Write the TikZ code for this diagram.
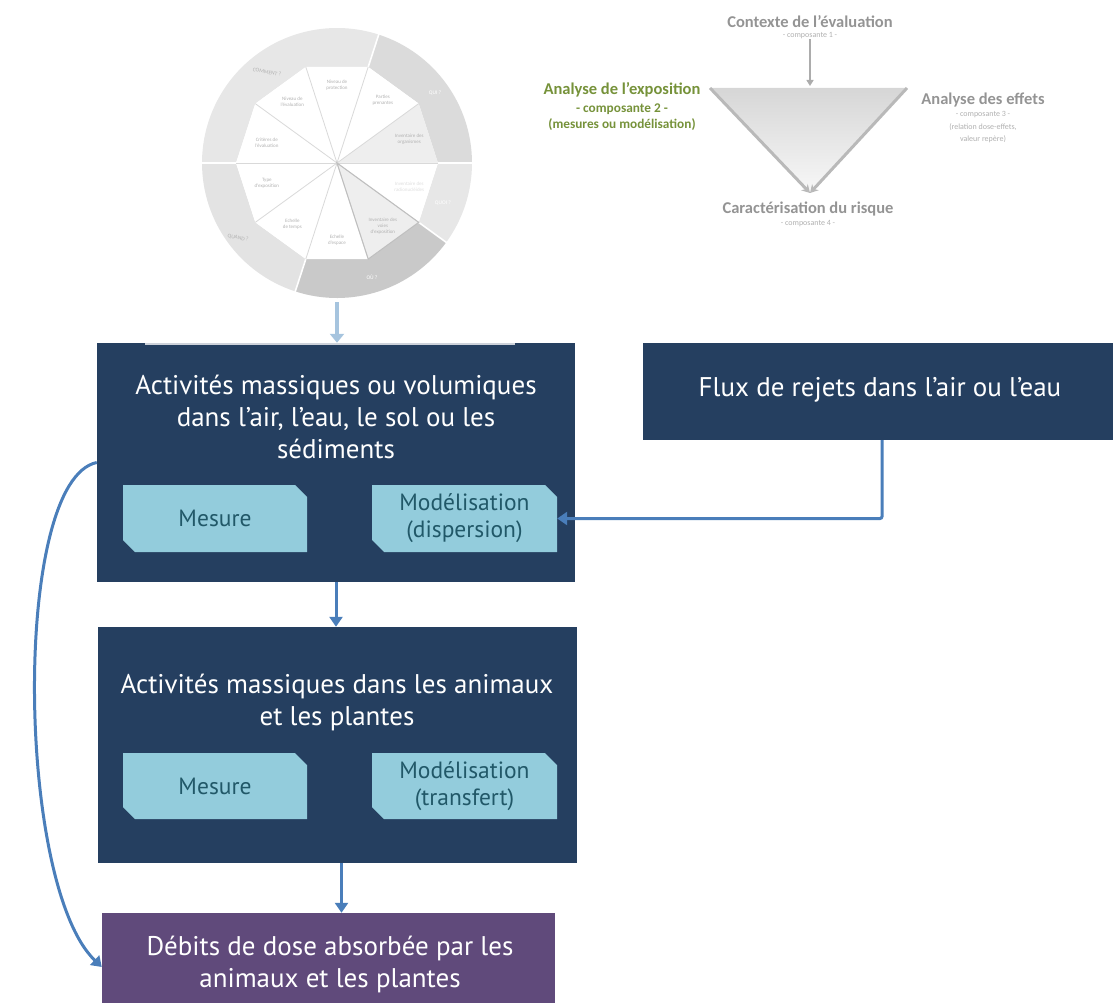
\documentclass[tikz,border=0pt]{standalone}
\usepackage{fontspec}
\setmainfont{PT Sans}
\newfontfamily\calib{Carlito}
\usetikzlibrary{arrows.meta,calc}

\definecolor{navy}{RGB}{37,63,96}
\definecolor{skyfill}{RGB}{147,204,220}
\definecolor{tealtext}{RGB}{33,88,104}
\definecolor{plum}{RGB}{96,74,123}
\definecolor{steel}{RGB}{74,126,186}
\definecolor{paleblue}{RGB}{166,196,222}
\definecolor{olive}{RGB}{118,146,58}
\definecolor{headgray}{RGB}{148,148,148}
\definecolor{smallgray}{RGB}{176,176,176}
\definecolor{ringlight}{RGB}{231,231,231}
\definecolor{ringmid}{RGB}{219,219,219}
\definecolor{ringdark}{RGB}{201,201,201}
\definecolor{ringquand}{RGB}{227,227,227}
\definecolor{slice}{RGB}{238,238,238}

% draws a light-blue box with two snipped corners and a named text node on it
\newcommand\snipbox[6]{%
  \fill[skyfill] (#2,#3) -- (#4-12,#3) -- (#4,#3+12) -- (#4,#5) -- (#2+12,#5) -- (#2,#5-12) -- cycle;
  \node[subtext, minimum width={(#4-#2)*1pt}, minimum height={(#5-#3)*1pt}] (#1) at ({(#2+#4)/2},{(#3+#5)/2}) {#6};}

\begin{document}
\begin{tikzpicture}[x=1pt,y=-1pt,
  panel/.style={fill=navy, draw=none, inner sep=0pt},
  title/.style={text=white, align=center, inner sep=0pt, font=\fontsize{27}{32}\selectfont},
  subtext/.style={text=tealtext, align=center, inner sep=0pt, font=\fontsize{23.5}{27}\selectfont},
  flow/.style={draw=steel, line width=3pt, -{Triangle[width=13pt,length=10pt]}},
  paleflow/.style={draw=paleblue, line width=4pt, -{Triangle[width=14pt,length=9pt]}},
  head/.style={inner sep=0pt, font=\calib\bfseries\fontsize{16.5}{18}\selectfont, text=headgray},
  greenhead/.style={inner sep=0pt, font=\calib\bfseries\fontsize{16.5}{18}\selectfont, text=olive},
  greensub/.style={inner sep=0pt, font=\calib\bfseries\fontsize{13.3}{14}\selectfont, text=olive},
  small/.style={inner sep=0pt, font=\calib\fontsize{8}{9}\selectfont, text=smallgray},
  wheeltext/.style={inner sep=0pt, align=center, font=\calib\fontsize{5}{6}\selectfont, text=gray!60},
  ringtext/.style={inner sep=0pt, font=\calib\fontsize{5.5}{6}\selectfont},
  side/.style={draw=gray!55, line width=3pt, -{Stealth[length=8pt,width=9pt]}},
]
\useasboundingbox (0,0) rectangle (1113,1003);

% ---------- evaluation wheel ----------
\begin{scope}[shift={(337,163)}, x=1pt, y=1pt]
  \def\R{135}\def\r{101}
  % outer ring sectors
  \fill[ringlight] (72:\R) arc[start angle=72, end angle=180, radius=\R] -- (180:\r) -- (144:\r) -- (108:\r) -- (72:\r) -- cycle;
  \fill[ringmid] (0:\R) arc[start angle=0, end angle=72, radius=\R] -- (72:\r) -- (36:\r) -- (0:\r) -- cycle;
  \fill[ringlight] (-36:\R) arc[start angle=-36, end angle=0, radius=\R] -- (0:\r) -- (-36:\r) -- cycle;
  \fill[ringdark] (-108:\R) arc[start angle=-108, end angle=-36, radius=\R] -- (-36:\r) -- (-72:\r) -- (-108:\r) -- cycle;
  \fill[ringquand] (180:\R) arc[start angle=180, end angle=252, radius=\R] -- (252:\r) -- (216:\r) -- (180:\r) -- cycle;
  \foreach \a in {0,72,180,252,324}
    \draw[white, line width=1.6pt] (\a:\r) -- (\a:\R+1);
  % inner slices
  \foreach \a/\c in {72/white,36/white,0/slice,-36/white,-72/slice,-108/white,-144/white,180/white,144/white,108/white}
    \fill[\c] (0,0) -- (\a:\r) -- (\a+36:\r) -- cycle;
  \foreach \a in {0,36,...,324}
    \draw[gray!30, line width=0.8pt] (0,0) -- (\a:\r);
  \draw[gray!50, line width=1pt] (0,0) -- (-72:\r) -- (-36:\r) -- cycle;
  % slice labels
  \node[wheeltext] (w1) at (90:78) {Niveau de\\protection};
  \node[wheeltext] (w2) at (54:78) {Parties\\prenantes};
  \node[wheeltext] (w3) at (18:76) {Inventaire des\\organismes};
  \node[wheeltext, text=gray!25] (w4) at (-18:76) {Inventaire des\\radionucléides};
  \node[wheeltext] (w5) at (-54:78) {Inventaire des\\voies\\d’exposition};
  \node[wheeltext] (w6) at (-90:77) {Echelle\\d’espace};
  \node[wheeltext] (w7) at (-126:76) {Echelle\\de temps};
  \node[wheeltext] (w8) at (-164:73) {Type\\d’exposition};
  \node[wheeltext] (w9) at (164:73) {Critères de\\l’évaluation};
  \node[wheeltext] (w10) at (126:76) {Niveau de\\l’évaluation};
  % ring labels
  \node[ringtext, text=gray!60, rotate=-10] (q1) at (-70,91) {COMMENT ?};
  \node[ringtext, text=white] (q2) at (98,70) {QUI ?};
  \node[ringtext, text=white] (q3) at (106,-40) {QUOI ?};
  \node[ringtext, text=white] (q4) at (35,-114) {OÙ ?};
  \node[ringtext, text=gray!60, rotate=-10] (q5) at (-99,-75) {QUAND ?};
\end{scope}

% ---------- risk assessment triangle ----------
\node[head] (ctx) at (810,22) {Contexte de l’évaluation};
\node[small] (ctx1) at (810,36) {- composante 1 -};
\coordinate (tl) at (710,88);
\coordinate (tr) at (907,88);
\coordinate (ap) at (810,193);
\coordinate (tm) at (810,86);
\shade[top color=gray!32, bottom color=gray!6] (tl) -- (tr) -- (ap) -- cycle;
\draw[side] (tl) -- (ap);
\draw[side] (tr) -- (ap);
\draw[draw=gray!65, line width=2pt, -{Triangle[width=7pt,length=6pt]}] (ctx1.south) -- (tm);

\node[greenhead] (ae) at (622,90) {Analyse de l’exposition};
\node[greensub] (ae2) at (622,109) {- composante 2 -};
\node[greensub] (ae3) at (622,125) {(mesures ou modélisation)};

\node[head] (ef) at (983,100) {Analyse des effets};
\node[small] (ef2) at (983,115) {- composante 3 -};
\node[small] (ef3) at (983,127) {(relation dose-effets,};
\node[small] (ef4) at (983,139) {valeur repère)};

\node[head] (cr) at (808,209) {Caractérisation du risque};
\node[small] (cr2) at (808,224) {- composante 4 -};

% ---------- flow chart ----------
\node[panel, minimum width=478pt, minimum height=239pt] (b1) at (336,462.5) {};
\draw[draw={rgb,255:red,205;green,210;blue,218}, line width=1.5pt] (145,344) -- (515,344);
\node[title] (t1) at (336,417) {Activités massiques ou volumiques\\dans l’air, l’eau, le sol ou les\\sédiments};
\snipbox{m1}{123}{485}{307}{552}{Mesure}
\snipbox{m2}{372}{485}{557}{552}{Modélisation\\(dispersion)}

\node[panel, minimum width=471pt, minimum height=97pt] (fx) at (878,391.5) {};
\node[title] (ft) at (880,390) {Flux de rejets dans l’air ou l’eau};

\node[panel, minimum width=479pt, minimum height=236pt] (b2) at (337.5,745) {};
\node[title] (t2) at (337,702) {Activités massiques dans les animaux\\et les plantes};
\snipbox{m3}{123}{753}{307}{819}{Mesure}
\snipbox{m4}{372}{753}{557}{819}{Modélisation\\(transfert)}

\node[panel, fill=plum, minimum width=453pt, minimum height=100pt] (b3) at (328.5,963) {};
\node[title] (t3) at (330,964) {Débits de dose absorbée par les\\animaux et les plantes};

% connectors
\coordinate (wb) at (337,302);
\draw[paleflow] (wb) -- (wb |- b1.north);
\draw[flow] (b1.south) -- (b1.south |- b2.north);
\draw[flow] ([xshift=4pt]b2.south) -- ([xshift=4pt]b2.south |- b3.north);
\draw[flow, rounded corners=2pt] ([xshift=4pt]fx.south) |- (m2.east);
\draw[flow] (b1.west) .. controls (12,480) and (16,885) .. ([yshift=-4pt]b3.west);
\end{tikzpicture}
\end{document}
